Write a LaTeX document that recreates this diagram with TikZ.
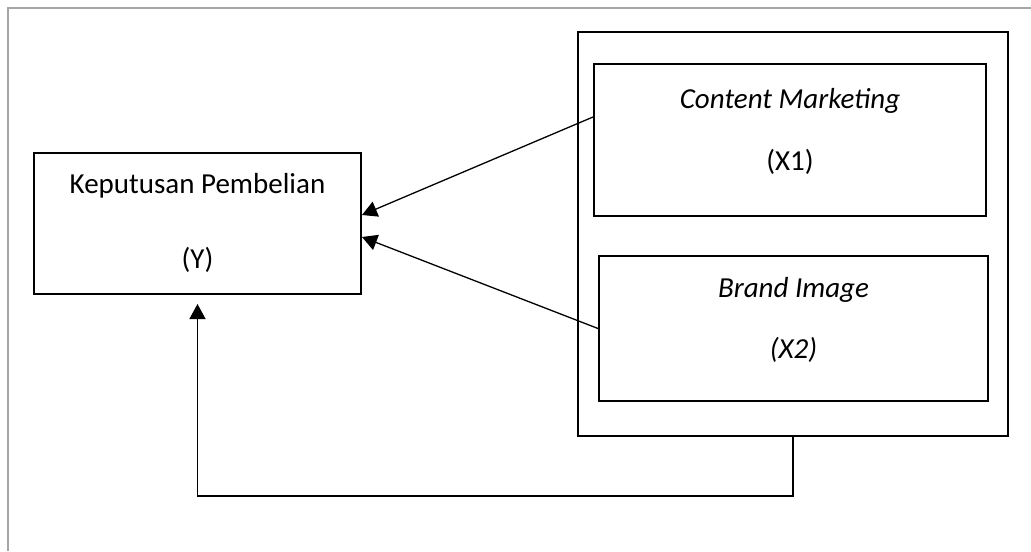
\documentclass[tikz,border=0pt]{standalone}
\usepackage{fontspec}
\setmainfont{Carlito}
\usetikzlibrary{arrows.meta,positioning,calc}
\definecolor{ink}{HTML}{000000}
\definecolor{pagerule}{HTML}{A6A6A6}
\tikzset{
  box/.style={draw=ink, line width=1pt, inner sep=0pt},
  lbl/.style={font=\fontsize{14.5}{17}\selectfont, text=ink, anchor=base, inner sep=0pt},
  arr/.style={-{Triangle[length=7.5pt,width=8pt]}, line width=0.65pt, draw=ink},
  frame/.style={draw=pagerule, line width=1pt},
}
\begin{document}
\begin{tikzpicture}[x=0.5pt,y=-0.5pt]
    \useasboundingbox (0,0) rectangle (1031,551);
    \draw[frame] (8,551) -- (8,8) -- (1031,8);
    % boxes
    \node[box, minimum width=163.5pt, minimum height=70.5pt] (kp) at (197.5,223.5) {};
    \node[box, minimum width=215pt, minimum height=202pt] (outer) at (793,234) {};
    \node[box, minimum width=196pt, minimum height=76pt] (x1) at (790,140) {};
    \node[box, minimum width=194.5pt, minimum height=72.5pt] (x2) at (793.5,328.5) {};
    % texts
    \node[lbl] (kpname) at (197.5,193) {Keputusan Pembelian};
    \node[lbl] (kpsym) at (197.5,268) {(Y)};
    \node[lbl] (x1name) at (790,108) {\itshape Content Marketing};
    \node[lbl] (x1sym) at (790,170) {(X1)};
    \node[lbl] (x2name) at (793.5,297) {\itshape Brand Image};
    \node[lbl] (x2sym) at (793.5,358) {\itshape (X2)};
    % connectors
    \draw[arr] ([yshift=11.5pt]x1.west) -- ([yshift=4.25pt]kp.east);
    \draw[arr] (x2.west) -- ([yshift=-6.75pt]kp.east);
    \draw[arr, shorten >=4.5pt] (outer.south) -- ++(0,59) -| (kp.south);
\end{tikzpicture}
\end{document}
